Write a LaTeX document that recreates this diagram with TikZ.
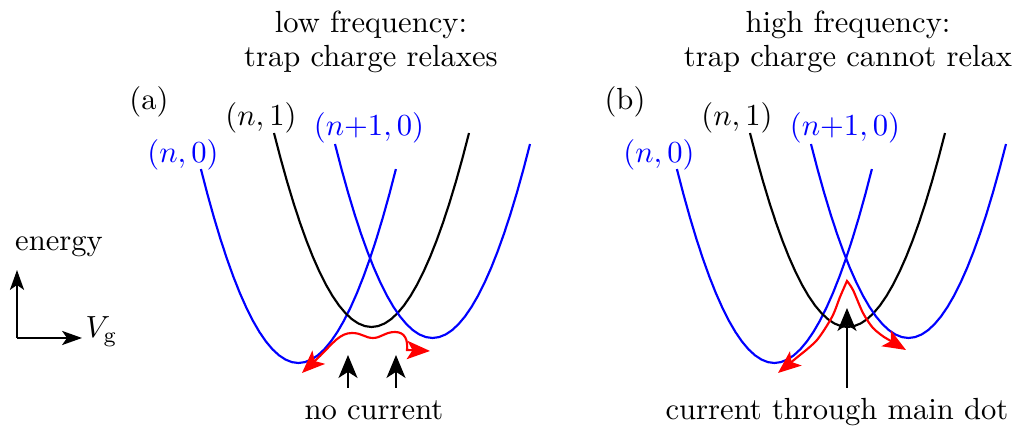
\documentclass[tikz,border=0pt]{standalone}
\usetikzlibrary{arrows.meta}
\tikzset{
  curve/.style={line width=0.7pt},
  arr/.style={line width=0.7pt,-{Stealth[length=7.5pt,width=6.2pt,inset=2pt]}},
  axis/.style={line width=0.7pt,-{Stealth[length=6.5pt,width=4.6pt,inset=1.6pt]}},
  hop/.style={red,line width=0.7pt,{Stealth[length=7.5pt,width=6pt,inset=1.8pt]}-{Stealth[length=7.5pt,width=6pt,inset=1.8pt]}},
  blab/.style={blue,inner sep=0pt},
  title/.style={align=center,inner sep=0pt,font=\fontsize{10}{11.1}\selectfont},
}
\begin{document}
\begin{tikzpicture}[x=0.327pt,y=-0.327pt]
\useasboundingbox (0,0) rectangle (1028,430);
% axes
\coordinate (o) at (17,338);
\draw[axis] (o) -- ++(0,-68) coordinate (up);
\draw[axis] (o) -- ++(65,0) coordinate (right);
\node[anchor=base] (en) at (59,251) {energy};
\node[anchor=base west,inner sep=1pt] (vg) at (right) {$V_\mathrm{g}$};
% the two panels
\foreach \dx/\lab in {0/a,476/b}{
\begin{scope}[shift={(\dx,0)}]
  \draw[curve,blue] plot[domain=200.9:395.9,samples=31] (\x,{363-0.0204*(\x-298.4)^2});
  \draw[curve] plot[domain=274:469,samples=31] (\x,{327-0.0204*(\x-371.5)^2});
  \draw[curve,blue] plot[domain=335:530,samples=31] (\x,{338-0.0204*(\x-432.5)^2});
  \node[inner sep=0pt] (p\lab) at (149,102) {(\lab)};
  \node[blab] (n0\lab) at (183,155) {$(n,0)$};
  \node[inner sep=0pt] (n1\lab) at (261,118) {$(n,1)$};
  \node[blab] (m0\lab) at (369,128) {$(n{+}1,0)$};
\end{scope}
}
\node[title] (ta) at (371,42) {low frequency:\\trap charge relaxes};
\node[title] (tb) at (848,42) {high frequency:\\trap charge cannot relax};
% (a) no current
\draw[hop] (302,373) -- (320,356) .. controls (333,343) and (340,333) .. (352,333)
  .. controls (362,333) and (365,338) .. (373,338) .. controls (381,338) and (385,332) .. (395,332)
  .. controls (405,332) and (408,340) .. (407,350) -- (430,351);
\coordinate (s1) at (348,388);
\coordinate (s2) at (396,388);
\draw[arr] (s1) -- ++(0,-33);
\draw[arr] (s2) -- ++(0,-33);
\node[anchor=base] (nc) at (374,420) {no current};
% (b) current
\draw[hop] (778,373) -- plot[smooth,tension=0.5] coordinates {(800,355) (817,340) (832,317) (840,297) (847,281)}
  -- plot[smooth,tension=0.5] coordinates {(847,281) (853,290) (863,313) (873,328) (884,337)} -- (906,350);
\coordinate (s3) at (847,388);
\draw[arr] (s3) -- ++(0,-80);
\node[anchor=base] (cm) at (837,420) {current through main dot};
\end{tikzpicture}
\end{document}
